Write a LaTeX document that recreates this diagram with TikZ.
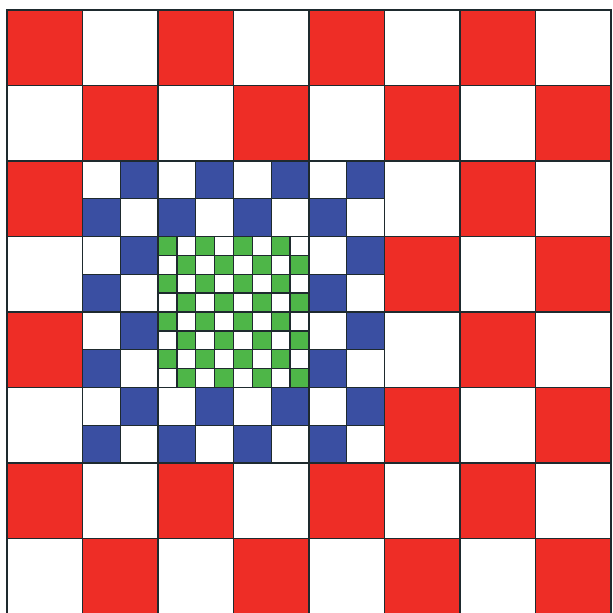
\documentclass[tikz,border=0pt]{standalone}
\definecolor{cred}{HTML}{EE2D26}
\definecolor{cblue}{HTML}{3A4FA2}
\definecolor{cgreen}{HTML}{4EB648}
\definecolor{cline}{HTML}{1E2A2E}
\tikzset{
  cellline/.style={draw=cline, line width=1.3pt},
}
\newcommand{\myboard}[6]{% x0, y0, cell size, n, colour, parity that is coloured
  \foreach \i in {0,...,#4} {
    \foreach \j in {0,...,#4} {
      \pgfmathtruncatemacro\mypar{mod(\i+\j,2)}
      \ifnum\mypar=#6
        \filldraw[cellline, fill=#5] ({#1+\i*#3},{#2+\j*#3}) rectangle ++(#3,#3);
      \else
        \filldraw[cellline, fill=white] ({#1+\i*#3},{#2+\j*#3}) rectangle ++(#3,#3);
      \fi
    }
  }
}
\begin{document}
\begin{tikzpicture}[x=1pt,y=-1pt]
\useasboundingbox (0,0) rectangle (613,613);
\fill[white] (0,0) rectangle (613,613);
\begin{scope}
\clip (0,0) rectangle (613,613);
% red board 8x8
\myboard{7}{10}{75.5}{7}{cred}{0}
% blue board 8x8 over cols 1-4, rows 2-5
\myboard{82.5}{161}{37.75}{7}{cblue}{1}
% green board 8x8 over blue cols 2-5, rows 2-5
\myboard{158}{236.5}{18.875}{7}{cgreen}{0}
\end{scope}
\end{tikzpicture}
\end{document}
